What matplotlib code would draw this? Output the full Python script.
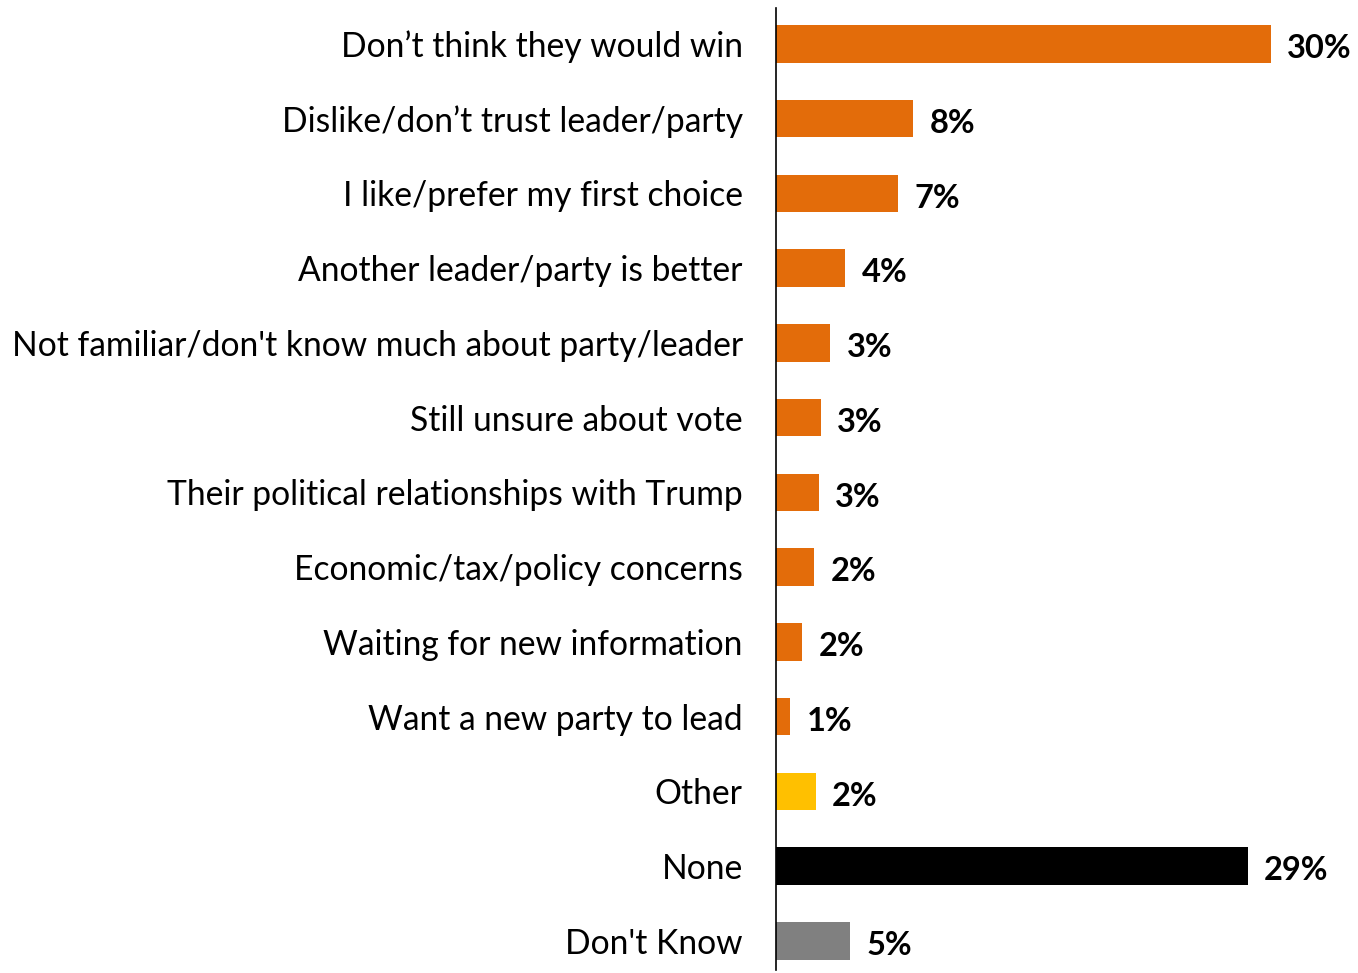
import matplotlib
matplotlib.use("Agg")
import matplotlib.pyplot as plt

categories = [
    "Don\u2019t think they would win",
    "Dislike/don\u2019t trust leader/party",
    "I like/prefer my first choice",
    "Another leader/party is better",
    "Not familiar/don't know much about party/leader",
    "Still unsure about vote",
    "Their political relationships with Trump",
    "Economic/tax/policy concerns",
    "Waiting for new information",
    "Want a new party to lead",
    "Other",
    "None",
    "Don't Know",
]
values = [30.0, 8.3, 7.4, 4.2, 3.3, 2.7, 2.6, 2.3, 1.6, 0.85, 2.4, 28.6, 4.5]
value_labels = ["30%", "8%", "7%", "4%", "3%", "3%", "3%", "2%", "2%", "1%", "2%", "29%", "5%"]
colors = ["#E36C0A"] * 10 + ["#FFC000", "#000000", "#808080"]

plt.rcParams['font.family'] = ['Lato', 'DejaVu Sans']

fig = plt.figure(figsize=(13.58, 9.73), dpi=100)
ax = fig.add_axes([776 / 1358, 1 - 970 / 973, 1 - 776 / 1358, 962 / 973])

ys = list(range(len(categories)))
ax.barh(ys, values, height=0.5, color=colors)
for y, v, lab in zip(ys, values, value_labels):
    ax.text(v + 1.0, y + 0.03, lab, va="center_baseline", ha="left", fontsize=23.5, fontweight="bold")

ax.set_yticks(ys)
ax.set_yticklabels(categories, fontsize=24.2)
for t in ax.get_yticklabels():
    t.set_verticalalignment("center_baseline")
ax.tick_params(axis="y", length=0, pad=24)
ax.set_xticks([])
ax.set_xlim(0, 35.3)
ax.set_ylim(12.39, -0.48)
for s in ["top", "right", "bottom"]:
    ax.spines[s].set_visible(False)
ax.spines["left"].set_linewidth(1.2)

fig.savefig("out.png", dpi=100)
